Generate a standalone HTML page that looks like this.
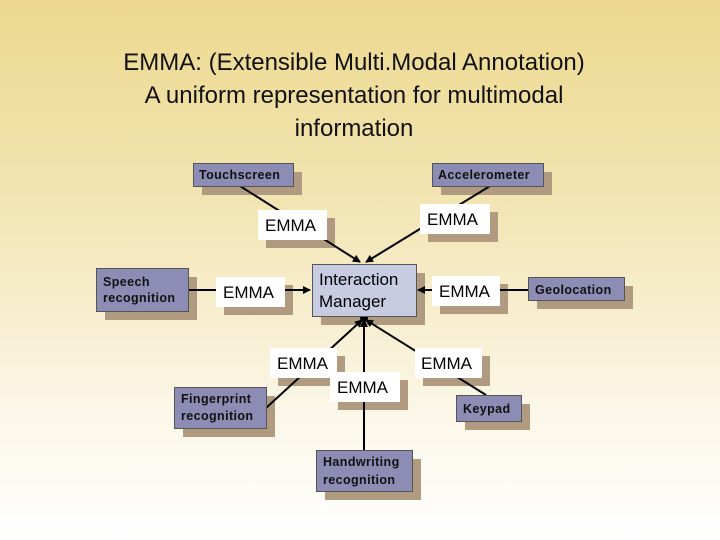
<!DOCTYPE html>
<html><head><meta charset="utf-8"><style>
html,body{margin:0;padding:0}
body{width:720px;height:540px;overflow:hidden;background:linear-gradient(to bottom,#ecd88e 0%,#f3e6b6 40%,#fbf6e6 75%,#ffffff 100%);}
svg{display:block}
.b{font-family:"Liberation Sans",sans-serif;font-weight:bold;font-size:12.5px;fill:#111;letter-spacing:0.4px}
.e{font-family:"Liberation Sans",sans-serif;font-size:17px;fill:#000}
</style></head><body>
<svg width="720" height="540" xmlns="http://www.w3.org/2000/svg">
<defs><marker id="a" markerWidth="8" markerHeight="8" refX="7" refY="4" orient="auto" markerUnits="userSpaceOnUse"><path d="M0,0 L8,4 L0,8 z" fill="#000"/></marker></defs>
<g font-family="Liberation Sans, sans-serif" font-size="24" text-anchor="middle" fill="#111">
<text x="354" y="70">EMMA: (Extensible Multi.Modal Annotation)</text>
<text x="354" y="103">A uniform representation for multimodal</text>
<text x="354" y="136">information</text>
</g>
<g fill="#b09a80">
<rect x="202" y="172" width="100" height="23"/><rect x="441" y="172" width="111" height="23"/>
<rect x="266" y="218" width="69" height="30"/><rect x="428" y="212" width="70" height="30"/>
<rect x="105" y="277" width="92" height="43"/><rect x="224" y="285" width="69" height="30"/>
<rect x="321" y="273" width="104" height="52"/><rect x="440" y="284" width="68" height="30"/>
<rect x="537" y="286" width="96" height="23"/>
<rect x="278" y="356" width="67" height="30"/><rect x="338" y="380" width="70" height="30"/><rect x="423" y="356" width="67" height="30"/>
<rect x="183" y="396" width="92" height="41"/><rect x="465" y="404" width="65" height="26"/><rect x="325" y="459" width="96" height="41"/>
</g>
<g stroke="#000" stroke-width="2" fill="none">
<line x1="240" y1="186" x2="360" y2="262" marker-end="url(#a)"/>
<line x1="490" y1="186" x2="366" y2="262" marker-end="url(#a)"/>
<line x1="188" y1="290" x2="310" y2="290" marker-end="url(#a)"/>
<line x1="528" y1="290" x2="418" y2="290" marker-end="url(#a)"/>
<line x1="266" y1="408" x2="362" y2="320" marker-end="url(#a)"/>
<line x1="364" y1="450" x2="364" y2="320" marker-end="url(#a)"/>
<line x1="486" y1="395" x2="366" y2="320" marker-end="url(#a)"/>
</g>
<circle cx="364" cy="318" r="4" fill="#000"/>
<g fill="#fff">
<rect x="258" y="210" width="69" height="30"/><rect x="420" y="204" width="70" height="30"/>
<rect x="216" y="277" width="69" height="30"/><rect x="432" y="276" width="68" height="30"/>
<rect x="270" y="348" width="67" height="30"/><rect x="330" y="372" width="70" height="30"/><rect x="415" y="348" width="67" height="30"/>
</g>
<g fill="#8c8cb4" stroke="#555" stroke-width="1">
<rect x="193.5" y="163.5" width="100" height="23"/><rect x="432.5" y="163.5" width="111" height="23"/>
<rect x="96.5" y="268.5" width="92" height="43"/>
<rect x="528.5" y="277.5" width="96" height="23"/>
<rect x="174.5" y="387.5" width="92" height="41"/><rect x="456.5" y="395.5" width="65" height="26"/><rect x="316.5" y="450.5" width="96" height="41"/>
</g>
<rect x="312.5" y="264.5" width="104" height="52" fill="#c8cce0" stroke="#555"/>
<g class="b">
<text x="199" y="179">Touchscreen</text><text x="438" y="179">Accelerometer</text>
<text x="103" y="286">Speech</text><text x="103" y="302">recognition</text>
<text x="535" y="294">Geolocation</text>
<text x="181" y="403">Fingerprint</text><text x="181" y="420">recognition</text>
<text x="463" y="413">Keypad</text>
<text x="323" y="466">Handwriting</text><text x="323" y="484">recognition</text>
</g>
<g class="e">
<text x="265" y="231">EMMA</text><text x="427" y="225">EMMA</text>
<text x="223" y="298">EMMA</text><text x="439" y="297">EMMA</text>
<text x="277" y="369">EMMA</text><text x="337" y="393">EMMA</text><text x="421" y="369">EMMA</text>
<text x="319" y="285">Interaction</text><text x="319" y="307">Manager</text>
</g>
</svg>
</body></html>
